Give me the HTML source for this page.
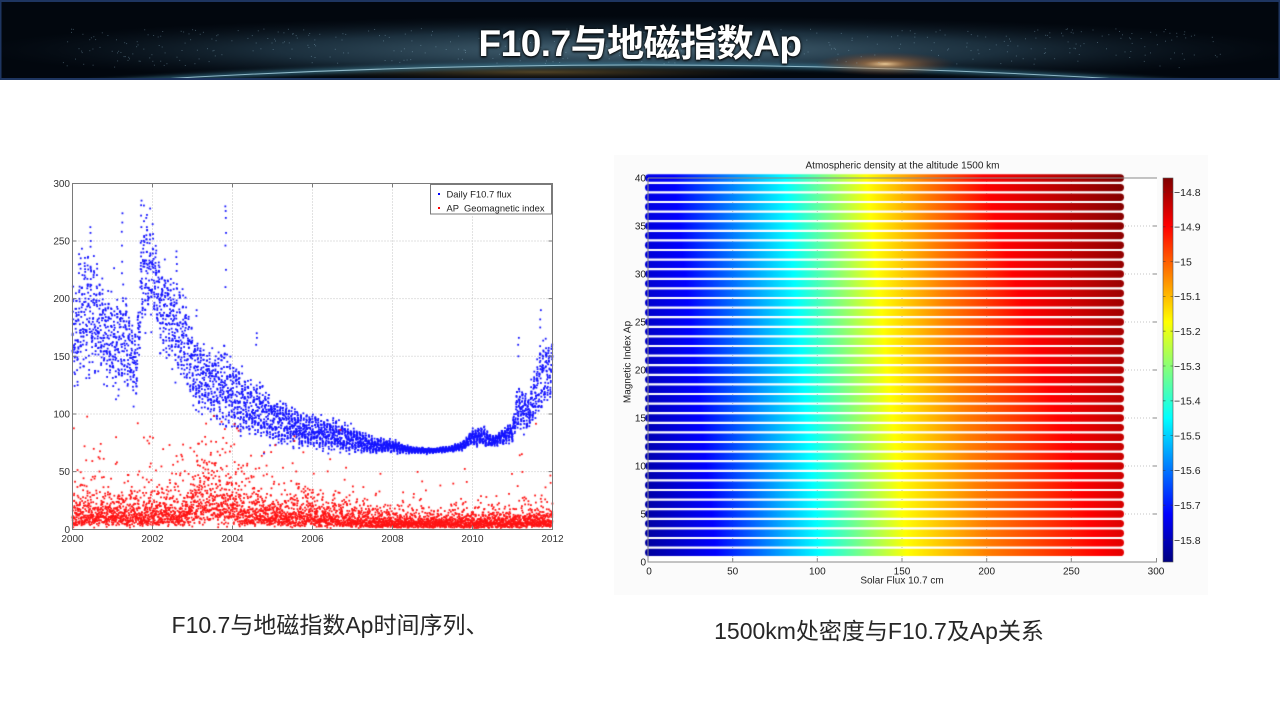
<!DOCTYPE html>
<html><head><meta charset="utf-8">
<style>
html,body{margin:0;padding:0;width:1280px;height:720px;overflow:hidden;background:#fff;}
.abs{position:absolute;left:0;top:0;}
#title{position:absolute;left:0;top:0;width:1280px;height:80px;display:flex;align-items:center;justify-content:center;color:#fff;font-family:"Liberation Sans","Noto Sans CJK SC",sans-serif;font-weight:bold;font-size:37px;text-shadow:0 0 3px #000,0 1px 2px #000;letter-spacing:-0.5px;}
text{font-family:"Liberation Sans","Noto Sans CJK SC",sans-serif;}
</style></head><body>

<!-- header -->
<svg class="abs" width="1280" height="80" viewBox="0 0 1280 80">
<defs>
<radialGradient id="haze" cx="0.5" cy="0.5" r="0.5">
<stop offset="0" stop-color="#7fb0c8" stop-opacity="0.6"/>
<stop offset="0.55" stop-color="#4a7a95" stop-opacity="0.35"/>
<stop offset="1" stop-color="#1a3040" stop-opacity="0"/>
</radialGradient>
<radialGradient id="sun" cx="0.5" cy="0.5" r="0.5">
<stop offset="0" stop-color="#ffd9a0" stop-opacity="0.9"/>
<stop offset="0.3" stop-color="#e08a40" stop-opacity="0.5"/>
<stop offset="1" stop-color="#803010" stop-opacity="0"/>
</radialGradient>
<radialGradient id="city" cx="0.5" cy="0.5" r="0.5">
<stop offset="0" stop-color="#b08a40" stop-opacity="0.45"/>
<stop offset="1" stop-color="#402a10" stop-opacity="0"/>
</radialGradient>
<filter id="bl" x="-10%" y="-200%" width="120%" height="500%"><feGaussianBlur stdDeviation="2"/></filter>
</defs>
<rect width="1280" height="80" fill="#02070e"/>
<ellipse cx="640" cy="50" rx="660" ry="34" fill="url(#haze)"/>
<path d="M0 90 Q640 40 1280 90 Z" fill="#03080e"/>
<ellipse cx="540" cy="72" rx="260" ry="8" fill="url(#city)"/>
<path d="M0 90 Q640 40 1280 90" fill="none" stroke="#4fa6c8" stroke-width="4" stroke-opacity="0.6" filter="url(#bl)"/>
<path d="M0 90 Q640 40 1280 90" fill="none" stroke="#bfe8f6" stroke-width="1" stroke-opacity="0.7"/>
<ellipse cx="885" cy="64" rx="70" ry="12" fill="url(#sun)"/>
<g id="stars" fill="#9cc4d8" fill-opacity="0.35"></g>
<rect x="0" y="0" width="1280" height="2" fill="#1e3560"/>
<rect x="0" y="78" width="1280" height="2" fill="#1e3560"/>
<rect x="0" y="0" width="1.5" height="80" fill="#1e3560"/>
<rect x="1278.5" y="0" width="1.5" height="80" fill="#1e3560"/>
</svg>
<div id="title">F10.7与地磁指数Ap</div>

<!-- background layer -->
<svg class="abs" width="1280" height="720" style="top:0">
<rect x="614" y="155" width="594" height="440" fill="#fbfbfb"/>
<rect x="648" y="178" width="509" height="384" fill="#ffffff"/>
<g stroke="#c4c4c4" stroke-width="1" stroke-dasharray="1,2" fill="none">
<path d="M152.5 183.5V529.5M232.5 183.5V529.5M312.5 183.5V529.5M392.5 183.5V529.5M472.5 183.5V529.5"/>
<path d="M72.5 471.6H552.5M72.5 414H552.5M72.5 356.3H552.5M72.5 298.6H552.5M72.5 241H552.5"/>
<path d="M732.7 178V562M817.3 178V562M902 178V562M986.7 178V562M1071.3 178V562"/>
<path d="M648 514H1157M648 466H1157M648 418H1157M648 370H1157M648 322H1157M648 274H1157M648 226H1157"/>
</g>
</svg>

<canvas id="cv" class="abs" width="1280" height="720"></canvas>

<!-- foreground layer -->
<svg class="abs" width="1280" height="720">
<defs>
<linearGradient id="jet" x1="0" y1="0" x2="0" y2="1">
<stop offset="0" stop-color="#800000"/>
<stop offset="0.125" stop-color="#ff0000"/>
<stop offset="0.375" stop-color="#ffff00"/>
<stop offset="0.625" stop-color="#00ffff"/>
<stop offset="0.875" stop-color="#0000ff"/>
<stop offset="1" stop-color="#000080"/>
</linearGradient>
</defs>
<rect x="72.5" y="183.5" width="480" height="346" fill="none" stroke="#7a7a7a" stroke-width="1"/>
<g stroke="#7a7a7a" stroke-width="1">
<path d="M72.5 529.5v-4M152.5 529.5v-4M232.5 529.5v-4M312.5 529.5v-4M392.5 529.5v-4M472.5 529.5v-4M552.5 529.5v-4"/>
<path d="M72.5 183.5v4M152.5 183.5v4M232.5 183.5v4M312.5 183.5v4M392.5 183.5v4M472.5 183.5v4M552.5 183.5v4"/>
<path d="M72.5 471.6h4M72.5 414h4M72.5 356.3h4M72.5 298.6h4M72.5 241h4"/>
<path d="M552.5 471.6h-4M552.5 414h-4M552.5 356.3h-4M552.5 298.6h-4M552.5 241h-4"/>
</g>
<g font-size="10" fill="#333" text-anchor="end">
<text x="70" y="533">0</text>
<text x="70" y="475">50</text>
<text x="70" y="417.5">100</text>
<text x="70" y="360">150</text>
<text x="70" y="302">200</text>
<text x="70" y="244.5">250</text>
<text x="70" y="187">300</text>
</g>
<g font-size="10" fill="#333" text-anchor="middle">
<text x="72.5" y="542">2000</text>
<text x="152.5" y="542">2002</text>
<text x="232.5" y="542">2004</text>
<text x="312.5" y="542">2006</text>
<text x="392.5" y="542">2008</text>
<text x="472.5" y="542">2010</text>
<text x="552.5" y="542">2012</text>
</g>
<rect x="430.5" y="184.5" width="121" height="29.5" fill="#fff" stroke="#7a7a7a" stroke-width="1"/>
<rect x="438" y="193" width="2" height="2" fill="#0000ff"/>
<rect x="438" y="207" width="2" height="2" fill="#ff0000"/>
<text x="446.5" y="197.5" font-size="9.5" fill="#222" textLength="65" lengthAdjust="spacingAndGlyphs">Daily F10.7 flux</text>
<text x="446.5" y="211.5" font-size="9.5" fill="#222" style="white-space:pre" textLength="98" lengthAdjust="spacingAndGlyphs">AP  Geomagnetic index</text>

<g stroke="#8a8a8a" stroke-width="1" fill="none">
<path d="M648 178V562H1157M648 178H1157"/>
<path d="M732.7 562v-4M817.3 562v-4M902 562v-4M986.7 562v-4M1071.3 562v-4M1156.5 562v-4"/>
<path d="M1157 514h-4M1157 466h-4M1157 418h-4M1157 370h-4M1157 322h-4M1157 274h-4M1157 226h-4"/>
</g>
<g font-size="10" fill="#222" text-anchor="end">
<text x="646" y="565.5">0</text>
<text x="646" y="517.5">5</text>
<text x="646" y="469.5">10</text>
<text x="646" y="421.5">15</text>
<text x="646" y="373.5">20</text>
<text x="646" y="325.5">25</text>
<text x="646" y="277.5">30</text>
<text x="646" y="229.5">35</text>
<text x="646" y="181.5">40</text>
</g>
<g font-size="10" fill="#222" text-anchor="middle">
<text x="649" y="574.5">0</text>
<text x="732.7" y="574.5">50</text>
<text x="817.3" y="574.5">100</text>
<text x="902" y="574.5">150</text>
<text x="986.7" y="574.5">200</text>
<text x="1071.3" y="574.5">250</text>
<text x="1156" y="574.5">300</text>
<text x="902" y="583.5">Solar Flux 10.7 cm</text>
<text x="902.5" y="168.5">Atmospheric density at the altitude 1500 km</text>
<text x="0" y="0" transform="translate(630.5 362) rotate(-90)">Magnetic Index Ap</text>
</g>
<rect x="1163" y="178" width="10" height="384" fill="url(#jet)" stroke="#555" stroke-width="0.6"/>
<g stroke="#333" stroke-width="0.8" stroke-opacity="0.6">
<path d="M1163 192h2.5M1163 226.8h2.5M1163 261.6h2.5M1163 296.4h2.5M1163 331.2h2.5M1163 366h2.5M1163 400.8h2.5M1163 435.6h2.5M1163 470.4h2.5M1163 505.2h2.5M1163 540h2.5"/>
<path d="M1173 192h-2.5M1173 226.8h-2.5M1173 261.6h-2.5M1173 296.4h-2.5M1173 331.2h-2.5M1173 366h-2.5M1173 400.8h-2.5M1173 435.6h-2.5M1173 470.4h-2.5M1173 505.2h-2.5M1173 540h-2.5"/>
</g>
<g font-size="10.5" fill="#222">
<text x="1174" y="195.8">−14.8</text>
<text x="1174" y="230.6">−14.9</text>
<text x="1174" y="265.4">−15</text>
<text x="1174" y="300.2">−15.1</text>
<text x="1174" y="335">−15.2</text>
<text x="1174" y="369.8">−15.3</text>
<text x="1174" y="404.6">−15.4</text>
<text x="1174" y="439.4">−15.5</text>
<text x="1174" y="474.2">−15.6</text>
<text x="1174" y="509">−15.7</text>
<text x="1174" y="543.8">−15.8</text>
</g>

<g font-size="23" fill="#262626" text-anchor="middle">
<text x="330" y="633">F10.7与地磁指数Ap时间序列、</text>
<text x="879" y="639">1500km处密度与F10.7及Ap关系</text>
</g>
</svg>

<script>
(function(){
var seed=20240611;
function R(){seed|=0;seed=seed+0x6D2B79F5|0;var t=Math.imul(seed^seed>>>15,1|seed);t=t+Math.imul(t^t>>>7,61|t)^t;return((t^t>>>14)>>>0)/4294967296;}
function gauss(){var u=R()||1e-9,v=R();return Math.sqrt(-2*Math.log(u))*Math.cos(2*Math.PI*v);}
function interp(k,t){
  if(t<=k[0][0])return k[0].slice(1);
  for(var i=0;i<k.length-1;i++){
    if(t<=k[i+1][0]){var a=k[i],b=k[i+1],f=(t-a[0])/(b[0]-a[0]);
      var out=[];for(var j=1;j<a.length;j++)out.push(a[j]+(b[j]-a[j])*f);return out;}
  }
  return k[k.length-1].slice(1);
}
// stars in header
var sg=document.getElementById('stars'),s='';
for(var i=0;i<500;i++){var x=60+R()*1160,y=28+R()*40;var dx=(x-640)/640;if(y>64-8*Math.abs(dx)+ (dx*dx*14))continue;
 s+='<rect x="'+x.toFixed(1)+'" y="'+y.toFixed(1)+'" width="1" height="1"/>';}
sg.innerHTML=s;

var c=document.getElementById('cv'),ctx=c.getContext('2d');
function X(t){return 72.5+(t-2000)*40;}
function Y(v){return 529.3-v*1.15333;}

var FK=[[2000.0,160,30],[2000.3,190,40],[2000.5,185,35],[2000.8,170,30],[2001.0,160,30],[2001.3,165,30],
[2001.6,140,20],[2001.75,225,35],[2002.0,225,30],[2002.2,195,30],[2002.5,180,30],[2002.8,165,30],
[2003.0,140,25],[2003.5,125,20],[2003.8,125,25],[2004.0,115,20],[2004.5,105,18],[2005.0,95,15],
[2005.5,90,12],[2006.0,84,10],[2006.5,82,10],[2007.0,78,8],[2007.5,73,5],[2008.0,72,4],[2008.4,69,2],
[2009.0,68,1.5],[2009.5,70,2],[2009.8,73,3],[2010.0,80,5],[2010.3,80,6],[2010.5,76,3],[2011.0,85,6],
[2011.15,108,14],[2011.4,100,10],[2011.7,130,22],[2012.0,140,20]];
var AK=[[2000,13],[2002.9,13],[2003.2,25],[2004.0,22],[2004.3,14],[2006,11],[2007,8],[2008,6],[2010,6],[2012,7]];

ctx.fillStyle='#1414ff';
var N=4383,sz=1.8,h=sz/2;
for(var d=0;d<N;d++){
  var t=2000+d/365.25; if(t>2012)break;
  var ba=interp(FK,t);
  var v=ba[0]+ba[1]*(0.85*Math.sin(2*Math.PI*d/27+0.7*Math.sin(d/300))+0.35*gauss());
  if(v<65)v=65+R()*2;
  ctx.fillRect(X(t)-h,Y(v)-h,sz,sz);
}
var spikes=[[2001.24,[274,266,258,246,232,222]],[2001.72,[285,281,272,262,250,240]],
[2003.83,[280,276,270,257,246,225,210]],[2002.60,[241,236,230,224]],[2000.45,[262,257,250,245]],
[2000.2,[235,230,226]],[2004.6,[170,166,160]],[2011.7,[190,182,175]],[2011.15,[166,160,150]],
[2001.85,[270,262,255]],[2000.62,[230,226]],[2003.1,[190,185]]];
spikes.forEach(function(s){s[1].forEach(function(v,i){var t=s[0]+(R()-0.5)*0.02;ctx.fillRect(X(t)-h,Y(v)-h,sz,sz);});});

ctx.fillStyle='#ff1414';
for(var d=0;d<N;d++){
  var t=2000+d/365.25; if(t>2012)break;
  var m=interp(AK,t)[0];
  var v=m*Math.exp(0.65*gauss());
  if(R()<0.03)v*=2.2;
  if(v>100)v=55+R()*45;
  if(v<1)v=1+R()*2;
  ctx.fillRect(X(t)-h,Y(v)-h,sz,sz);
}

function jet(t){function cl(x){return Math.max(0,Math.min(1,x));}
  return 'rgb('+Math.round(255*cl(1.5-Math.abs(4*t-3)))+','+Math.round(255*cl(1.5-Math.abs(4*t-2)))+','+Math.round(255*cl(1.5-Math.abs(4*t-1)))+')';}
var FB=[0,40,101,153,200,267,280],FT=[0,15,81,129,162,198,280],TT=[0,0.125,0.375,0.625,0.75,0.875,0];
function rr(x,y,w,hh,r){ctx.beginPath();ctx.moveTo(x+r,y);ctx.lineTo(x+w-r,y);ctx.arc(x+w-r,y+r,r,-Math.PI/2,Math.PI/2);ctx.lineTo(x+r,y+hh);ctx.arc(x+r,y+r,r,Math.PI/2,3*Math.PI/2);ctx.closePath();ctx.fill();}
for(var a=1;a<=40;a++){
  var f=(a-1)/39,y=562-a*9.6;
  var g=ctx.createLinearGradient(648,0,1122,0);
  for(var i=0;i<7;i++){
    var F=FB[i]*(1-f)+FT[i]*f;
    var tt=(i==0)?(0.03+0.07*f):(i==6)?(0.9+0.1*f):TT[i];
    g.addColorStop(Math.min(1,F/280),jet(tt));
  }
  ctx.fillStyle=g;
  rr(645,y-3.7,479,7.4,3.7);
}
})();
</script>
</body></html>
